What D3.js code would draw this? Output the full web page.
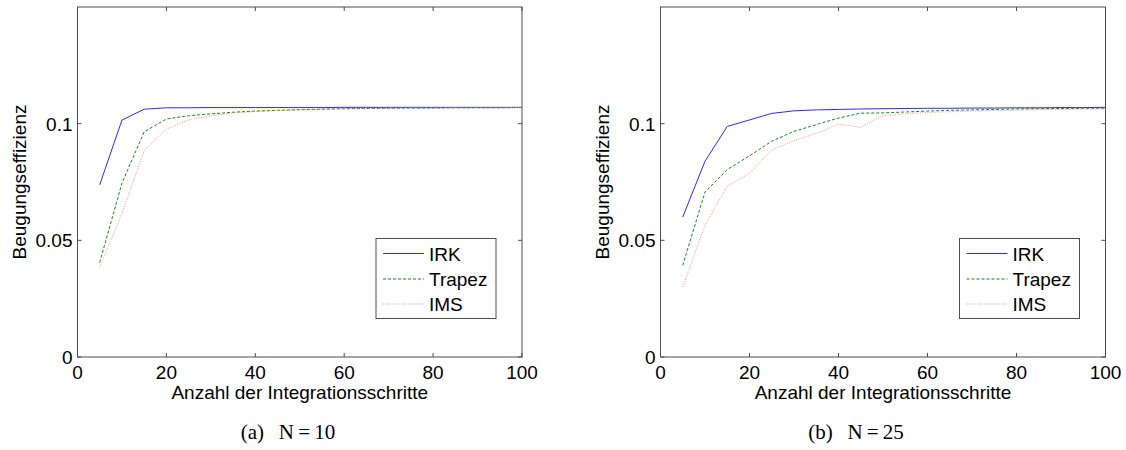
<!DOCTYPE html>
<html>
<head>
<meta charset="utf-8">
<script src="https://cdn.jsdelivr.net/npm/d3@7"></script>
<style>
  body { margin: 0; background: #fff; }
  svg { display: block; }
  .tick-label { font-family: "Liberation Sans", Arial, sans-serif; font-size: 19px; fill: #000; }
</style>
</head>
<body>
<svg width="1126" height="450"></svg>
<script>
// Number of integration steps (x values, shared by both panels)
const steps = [5, 10, 15, 20, 25, 30, 35, 40, 45, 50, 55, 60, 65, 70, 75, 80, 85, 90, 95, 100];

// (a) N=10
const irk10    = [0.0738, 0.1015, 0.1062, 0.1068, 0.1068, 0.1069, 0.1069, 0.1069, 0.1069, 0.1069, 0.1069, 0.1070, 0.1070, 0.1070, 0.1070, 0.1070, 0.1070, 0.1070, 0.1070, 0.1070];
const trapez10 = [0.0405, 0.0745, 0.0965, 0.1020, 0.1034, 0.1042, 0.1049, 0.1054, 0.1057, 0.1060, 0.1062, 0.1064, 0.1065, 0.1066, 0.1067, 0.1067, 0.1068, 0.1068, 0.1068, 0.1069];
const ims10    = [0.0385, 0.0615, 0.0885, 0.0977, 0.1016, 0.1034, 0.1046, 0.1052, 0.1056, 0.1059, 0.1062, 0.1064, 0.1065, 0.1066, 0.1067, 0.1067, 0.1068, 0.1068, 0.1068, 0.1069];

// (b) N=25
const irk25    = [0.0600, 0.0839, 0.0988, 0.1016, 0.1044, 0.1055, 0.1059, 0.1061, 0.1063, 0.1064, 0.1065, 0.1066, 0.1066, 0.1067, 0.1067, 0.1068, 0.1068, 0.1069, 0.1069, 0.1070];
const trapez25 = [0.0393, 0.0707, 0.0803, 0.0862, 0.0925, 0.0967, 0.0996, 0.1024, 0.1045, 0.1046, 0.1050, 0.1054, 0.1057, 0.1059, 0.1061, 0.1063, 0.1064, 0.1065, 0.1066, 0.1066];
const ims25    = [0.0300, 0.0564, 0.0732, 0.0787, 0.0888, 0.0927, 0.0958, 0.0998, 0.0984, 0.1035, 0.1042, 0.1048, 0.1051, 0.1054, 0.1056, 0.1058, 0.1060, 0.1061, 0.1062, 0.1063];

const seriesNames = ["IRK", "Trapez", "IMS"];
const xTicks = [0, 20, 40, 60, 80, 100];
const yTicks = [0, 0.05, 0.1];
const yTickLabels = ["0", "0.05", "0.1"];
const xLabel = "Anzahl der Integrationsschritte";
const yLabel = "Beugungseffizienz";
const captions = ["(a)\u2002\u2009N\u2009=\u200910", "(b)\u2002\u2009N\u2009=\u200925"];

// line styles per series
const styles = [
  { stroke: "#2b2bff", dash: null, width: 1 },
  { stroke: "#108a10", dash: "3,2", width: 1 },
  { stroke: "#ff8a8a", dash: "1,1.5", width: 1 }
];

let svg = d3.select("svg");

let panels = [
  { left: 77.5, right: 522, capX: 288, data: [irk10, trapez10, ims10], caption: captions[0] },
  { left: 660.5, right: 1105.5, capX: 856, data: [irk25, trapez25, ims25], caption: captions[1] }
];
let plotTop = 7, plotBottom = 357;
let axisColor = "#4d4d4d";

panels.forEach(function (p) {
  let x = d3.scaleLinear().domain([0, 100]).range([p.left, p.right]);
  let y = d3.scaleLinear().domain([0, 0.15]).range([plotBottom, plotTop]);
  let g = svg.append("g");

  // lines
  let line = d3.line().x((d, i) => x(steps[i])).y(d => y(d));
  p.data.forEach(function (vals, k) {
    g.append("path")
      .datum(vals)
      .attr("d", line)
      .attr("fill", "none")
      .attr("stroke", styles[k].stroke)
      .attr("stroke-width", styles[k].width)
      .attr("stroke-dasharray", styles[k].dash);
  });

  // axis box
  g.append("rect")
    .attr("x", p.left).attr("y", plotTop)
    .attr("width", p.right - p.left).attr("height", plotBottom - plotTop)
    .attr("fill", "none").attr("stroke", axisColor).attr("stroke-width", 1);

  // x ticks (inward, bottom and top)
  xTicks.forEach(function (t) {
    g.append("line").attr("x1", x(t)).attr("x2", x(t)).attr("y1", plotBottom).attr("y2", plotBottom - 4)
      .attr("stroke", axisColor);
    g.append("line").attr("x1", x(t)).attr("x2", x(t)).attr("y1", plotTop).attr("y2", plotTop + 4)
      .attr("stroke", axisColor);
    g.append("text").attr("class", "tick-label")
      .attr("x", x(t)).attr("y", 379)
      .attr("text-anchor", "middle").text(t);
  });

  // y ticks (inward, left and right)
  yTicks.forEach(function (t, i) {
    g.append("line").attr("x1", p.left).attr("x2", p.left + 4).attr("y1", y(t)).attr("y2", y(t))
      .attr("stroke", axisColor);
    g.append("line").attr("x1", p.right).attr("x2", p.right - 4).attr("y1", y(t)).attr("y2", y(t))
      .attr("stroke", axisColor);
    g.append("text").attr("class", "tick-label")
      .attr("x", p.left - 5).attr("y", y(t) + 7)
      .attr("text-anchor", "end").text(yTickLabels[i]);
  });

  // axis labels
  g.append("text").attr("class", "tick-label")
    .attr("x", (p.left + p.right) / 2).attr("y", 399)
    .attr("text-anchor", "middle").text(xLabel);
  g.append("text").attr("class", "tick-label")
    .attr("transform", "translate(" + (p.left - 52) + "," + 182 + ") rotate(-90)")
    .attr("text-anchor", "middle").text(yLabel);

  // legend
  let lx = p.right - 146, ly = 238.5;
  g.append("rect").attr("x", lx).attr("y", ly).attr("width", 120).attr("height", 80)
    .attr("fill", "#fff").attr("stroke", axisColor).attr("stroke-width", 1);
  let rowY = [15, 40.5, 65.5];
  seriesNames.forEach(function (name, k) {
    g.append("line")
      .attr("x1", lx + 7).attr("x2", lx + 48)
      .attr("y1", ly + rowY[k]).attr("y2", ly + rowY[k])
      .attr("stroke", styles[k].stroke)
      .attr("stroke-width", styles[k].width)
      .attr("stroke-dasharray", styles[k].dash);
    g.append("text").attr("class", "tick-label")
      .attr("x", lx + 53).attr("y", ly + rowY[k] + 7)
      .text(name);
  });

  // caption
  g.append("text")
    .attr("x", p.capX).attr("y", 439)
    .attr("text-anchor", "middle")
    .attr("font-family", "'Liberation Serif', 'DejaVu Serif', serif")
    .attr("font-size", 21)
    .text(p.caption);
});
</script>
</body>
</html>
